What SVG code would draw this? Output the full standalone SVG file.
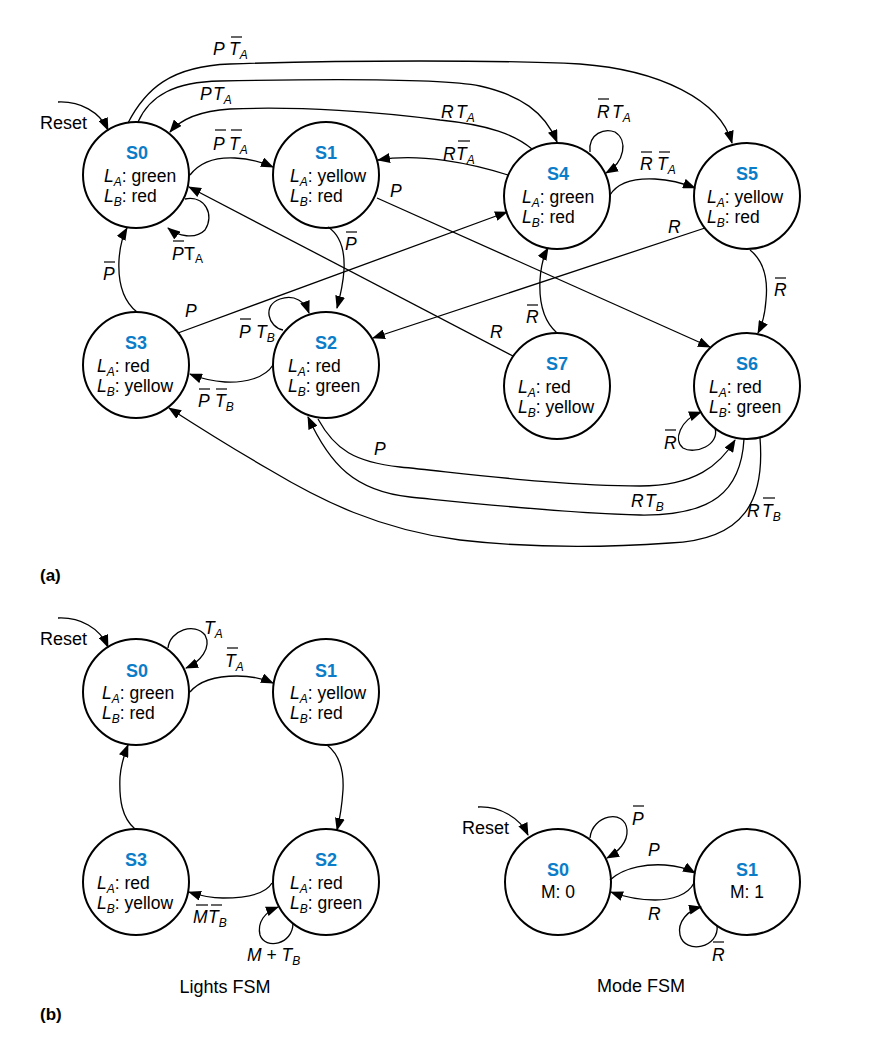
<svg xmlns="http://www.w3.org/2000/svg" width="878" height="1048" viewBox="0 0 878 1048">
<style>
.n{fill:#fff;stroke:#000;stroke-width:2}
.c{fill:none;stroke:#000;stroke-width:1.3;marker-end:url(#ah)}
.sl{font-family:"Liberation Sans",Arial,sans-serif;font-weight:bold;font-size:18px;fill:#0b7dc8;text-anchor:middle}
.nt{font-family:"Liberation Sans",Arial,sans-serif;font-size:17.5px;fill:#000}
.i{font-style:italic}
.el{font-family:"Liberation Sans",Arial,sans-serif;font-size:17.5px;font-style:italic;fill:#000}
.tx{font-family:"Liberation Sans",Arial,sans-serif;font-size:18px;fill:#000}
.cap{font-family:"Liberation Sans",Arial,sans-serif;font-size:17px;font-weight:bold;fill:#000}
.bar{stroke:#000;stroke-width:1.2}
</style>
<defs>
<marker id="ah" viewBox="0 0 13 10" refX="12" refY="5" markerWidth="13" markerHeight="10" markerUnits="userSpaceOnUse" orient="auto"><path d="M0,0 L13,5 L0,10 z" fill="#000"/></marker>
</defs>
<rect width="878" height="1048" fill="#fff"/>

<!-- Part (a) nodes -->
<g id="a-S0"><circle class="n" cx="136" cy="175" r="53"/><text class="sl" x="137" y="159">S0</text>
<text class="nt" x="104" y="182"><tspan class="i">L</tspan><tspan class="i" font-size="12" dy="4">A</tspan><tspan dy="-4">: green</tspan></text>
<text class="nt" x="104" y="202"><tspan class="i">L</tspan><tspan class="i" font-size="12" dy="4">B</tspan><tspan dy="-4">: red</tspan></text></g>
<g id="a-S1"><circle class="n" cx="326" cy="175" r="53"/><text class="sl" x="326" y="159">S1</text>
<text class="nt" x="290" y="182"><tspan class="i">L</tspan><tspan class="i" font-size="12" dy="4">A</tspan><tspan dy="-4">: yellow</tspan></text>
<text class="nt" x="290" y="202"><tspan class="i">L</tspan><tspan class="i" font-size="12" dy="4">B</tspan><tspan dy="-4">: red</tspan></text></g>
<g id="a-S4"><circle class="n" cx="557" cy="196" r="53"/><text class="sl" x="558" y="180">S4</text>
<text class="nt" x="522" y="203"><tspan class="i">L</tspan><tspan class="i" font-size="12" dy="4">A</tspan><tspan dy="-4">: green</tspan></text>
<text class="nt" x="522" y="223"><tspan class="i">L</tspan><tspan class="i" font-size="12" dy="4">B</tspan><tspan dy="-4">: red</tspan></text></g>
<g id="a-S5"><circle class="n" cx="747" cy="196" r="53"/><text class="sl" x="747" y="180">S5</text>
<text class="nt" x="707" y="203"><tspan class="i">L</tspan><tspan class="i" font-size="12" dy="4">A</tspan><tspan dy="-4">: yellow</tspan></text>
<text class="nt" x="707" y="223"><tspan class="i">L</tspan><tspan class="i" font-size="12" dy="4">B</tspan><tspan dy="-4">: red</tspan></text></g>
<g id="a-S3"><circle class="n" cx="136" cy="365" r="53"/><text class="sl" x="136" y="349">S3</text>
<text class="nt" x="97" y="372"><tspan class="i">L</tspan><tspan class="i" font-size="12" dy="4">A</tspan><tspan dy="-4">: red</tspan></text>
<text class="nt" x="97" y="392"><tspan class="i">L</tspan><tspan class="i" font-size="12" dy="4">B</tspan><tspan dy="-4">: yellow</tspan></text></g>
<g id="a-S2"><circle class="n" cx="326" cy="365" r="53"/><text class="sl" x="326" y="349">S2</text>
<text class="nt" x="288" y="372"><tspan class="i">L</tspan><tspan class="i" font-size="12" dy="4">A</tspan><tspan dy="-4">: red</tspan></text>
<text class="nt" x="288" y="392"><tspan class="i">L</tspan><tspan class="i" font-size="12" dy="4">B</tspan><tspan dy="-4">: green</tspan></text></g>
<g id="a-S7"><circle class="n" cx="557" cy="386" r="53"/><text class="sl" x="557" y="370">S7</text>
<text class="nt" x="518" y="393"><tspan class="i">L</tspan><tspan class="i" font-size="12" dy="4">A</tspan><tspan dy="-4">: red</tspan></text>
<text class="nt" x="518" y="413"><tspan class="i">L</tspan><tspan class="i" font-size="12" dy="4">B</tspan><tspan dy="-4">: yellow</tspan></text></g>
<g id="a-S6"><circle class="n" cx="747" cy="386" r="53"/><text class="sl" x="747" y="370">S6</text>
<text class="nt" x="709" y="393"><tspan class="i">L</tspan><tspan class="i" font-size="12" dy="4">A</tspan><tspan dy="-4">: red</tspan></text>
<text class="nt" x="709" y="413"><tspan class="i">L</tspan><tspan class="i" font-size="12" dy="4">B</tspan><tspan dy="-4">: green</tspan></text></g>

<!-- Part (a) connectors -->
<g id="a-connectors">
<path class="c" d="M58,102 C80,101 100,112 108,130"/>
<path class="c" d="M128,123 C145,90 170,66 230,64 C350,60 500,60 580,64 C660,70 720,100 732,143"/>
<path class="c" d="M138,122 C150,95 175,82 220,81 C320,79 440,78 480,86 C520,95 545,112 557,142"/>
<path class="c" d="M532,149 C515,135 490,125 440,120 C380,112 300,106 230,109 C200,111 180,120 170,132"/>
<path class="c" d="M508,175 C470,163 420,153 378,160"/>
<path class="c" d="M590,152 C588,133 605,128 615,132 C628,140 625,162 606,173"/>
<path class="c" d="M610,195 C618,182 635,178 655,179 C672,180 685,184 695,188"/>
<path class="c" d="M190,175 C200,162 215,157 235,158 C252,159 264,163 273,167"/>
<path class="c" d="M185,199 C205,195 215,215 205,230 C195,240 178,236 168,228"/>
<path class="c" d="M377,198 L710,347"/>
<path class="c" d="M328,227 C340,235 345,250 344,270 C343,285 340,297 337,308"/>
<path class="c" d="M513,356 L189,187"/>
<path class="c" d="M178,333 L507,212"/>
<path class="c" d="M705,228 L373,338"/>
<path class="c" d="M137,312 C122,300 118,280 119,260 C120,245 123,235 127,228"/>
<path class="c" d="M283,330 C268,327 262,305 280,299 C295,294 305,302 309,313"/>
<path class="c" d="M273,365 C265,378 245,383 225,382 C210,381 200,378 190,374"/>
<path class="c" d="M557,333 C542,320 539,300 540,280 C541,265 544,255 548,248"/>
<path class="c" d="M750,250 C765,262 768,280 766,300 C765,315 762,325 758,333"/>
<path class="c" d="M715,428 C720,445 695,455 683,448 C673,440 680,420 701,412"/>
<path class="c" d="M318,419 C335,450 355,462 400,467 C470,474 560,486 640,486 C695,486 720,465 735,440"/>
<path class="c" d="M744,439 C741,492 712,516 640,515 C560,513 470,503 410,497 C355,491 330,465 308,417"/>
<path class="c" d="M760,438 C765,500 745,540 670,543 C600,548 530,548 460,540 C380,530 320,500 270,470 C230,447 200,428 169,408"/>
</g>

<!-- Part (a) labels -->
<g id="a-labels">
<text class="tx" x="40" y="129">Reset</text>
<text class="el" x="213" y="55">P</text><text class="el" x="229" y="55">T<tspan font-size="12" dy="4">A</tspan></text><line class="bar" x1="231" y1="37" x2="242" y2="37"/>
<text class="el" x="200" y="100">P</text><text class="el" x="213" y="100">T<tspan font-size="12" dy="4">A</tspan></text>
<text class="el" x="213" y="150">P</text><text class="el" x="229" y="150">T<tspan font-size="12" dy="4">A</tspan></text><line class="bar" x1="215" y1="130" x2="226" y2="130"/><line class="bar" x1="231" y1="130" x2="242" y2="130"/>
<text class="el" x="172" y="260">P</text><text class="tx" x="184" y="260" font-size="17.5">T<tspan font-size="12" dy="3">A</tspan></text><line class="bar" x1="173" y1="241" x2="184" y2="241"/>
<text class="el" x="390" y="197">P</text>
<text class="el" x="345" y="250">P</text><line class="bar" x1="346" y1="232" x2="357" y2="232"/>
<text class="el" x="103" y="280">P</text><line class="bar" x1="104" y1="262" x2="115" y2="262"/>
<text class="el" x="441" y="118">R</text><text class="el" x="456" y="118">T<tspan font-size="12" dy="4">A</tspan></text>
<text class="el" x="443" y="160">R</text><text class="el" x="456" y="160">T<tspan font-size="12" dy="4">A</tspan></text><line class="bar" x1="458" y1="141" x2="470" y2="141"/>
<text class="el" x="597" y="118">R</text><text class="el" x="612" y="118">T<tspan font-size="12" dy="4">A</tspan></text><line class="bar" x1="598" y1="99" x2="609" y2="99"/>
<text class="el" x="640" y="170">R</text><text class="el" x="657" y="170">T<tspan font-size="12" dy="4">A</tspan></text><line class="bar" x1="641" y1="152" x2="652" y2="152"/><line class="bar" x1="659" y1="152" x2="670" y2="152"/>
<text class="el" x="668" y="233">R</text>
<text class="el" x="185" y="317">P</text>
<text class="el" x="239" y="338">P</text><text class="el" x="256" y="338">T<tspan font-size="12" dy="4">B</tspan></text><line class="bar" x1="240" y1="319" x2="251" y2="319"/>
<text class="el" x="198" y="407">P</text><text class="el" x="215" y="407">T<tspan font-size="12" dy="4">B</tspan></text><line class="bar" x1="199" y1="389" x2="210" y2="389"/><line class="bar" x1="216" y1="389" x2="227" y2="389"/>
<text class="el" x="774" y="296">R</text><line class="bar" x1="775" y1="278" x2="786" y2="278"/>
<text class="el" x="526" y="323">R</text><line class="bar" x1="527" y1="305" x2="538" y2="305"/>
<text class="el" x="490" y="338">R</text>
<text class="el" x="664" y="449">R</text><line class="bar" x1="665" y1="430" x2="676" y2="430"/>
<text class="el" x="631" y="507">R</text><text class="el" x="645" y="507">T<tspan font-size="12" dy="4">B</tspan></text>
<text class="el" x="747" y="517">R</text><text class="el" x="762" y="517">T<tspan font-size="12" dy="4">B</tspan></text><line class="bar" x1="763" y1="498" x2="775" y2="498"/>
<text class="el" x="374" y="455">P</text>
<text class="cap" x="40" y="581">(a)</text>
</g>

<!-- Part (b) lights FSM nodes -->
<g id="b-S0"><circle class="n" cx="136" cy="692" r="53"/><text class="sl" x="137" y="677">S0</text>
<text class="nt" x="102" y="699"><tspan class="i">L</tspan><tspan class="i" font-size="12" dy="4">A</tspan><tspan dy="-4">: green</tspan></text>
<text class="nt" x="102" y="719"><tspan class="i">L</tspan><tspan class="i" font-size="12" dy="4">B</tspan><tspan dy="-4">: red</tspan></text></g>
<g id="b-S1"><circle class="n" cx="326" cy="692" r="53"/><text class="sl" x="326" y="677">S1</text>
<text class="nt" x="290" y="699"><tspan class="i">L</tspan><tspan class="i" font-size="12" dy="4">A</tspan><tspan dy="-4">: yellow</tspan></text>
<text class="nt" x="290" y="719"><tspan class="i">L</tspan><tspan class="i" font-size="12" dy="4">B</tspan><tspan dy="-4">: red</tspan></text></g>
<g id="b-S3"><circle class="n" cx="136" cy="882" r="53"/><text class="sl" x="136" y="866">S3</text>
<text class="nt" x="97" y="889"><tspan class="i">L</tspan><tspan class="i" font-size="12" dy="4">A</tspan><tspan dy="-4">: red</tspan></text>
<text class="nt" x="97" y="909"><tspan class="i">L</tspan><tspan class="i" font-size="12" dy="4">B</tspan><tspan dy="-4">: yellow</tspan></text></g>
<g id="b-S2"><circle class="n" cx="326" cy="882" r="53"/><text class="sl" x="326" y="866">S2</text>
<text class="nt" x="290" y="889"><tspan class="i">L</tspan><tspan class="i" font-size="12" dy="4">A</tspan><tspan dy="-4">: red</tspan></text>
<text class="nt" x="290" y="909"><tspan class="i">L</tspan><tspan class="i" font-size="12" dy="4">B</tspan><tspan dy="-4">: green</tspan></text></g>

<!-- Part (b) mode FSM nodes -->
<g id="m-S0"><circle class="n" cx="558" cy="882" r="53"/><text class="sl" x="558" y="876">S0</text>
<text class="nt" x="558" y="898" text-anchor="middle">M: 0</text></g>
<g id="m-S1"><circle class="n" cx="747" cy="882" r="53"/><text class="sl" x="747" y="876">S1</text>
<text class="nt" x="747" y="898" text-anchor="middle">M: 1</text></g>

<!-- Part (b) connectors -->
<g id="b-connectors">
<path class="c" d="M58,618 C80,617 100,628 108,647"/>
<path class="c" d="M168,648 C170,630 195,622 205,635 C212,648 200,662 186,668"/>
<path class="c" d="M190,692 C200,680 218,676 237,676 C252,676 264,679 273,683"/>
<path class="c" d="M327,745 C340,755 344,770 343,790 C342,805 340,818 337,830"/>
<path class="c" d="M272,883 C265,895 245,898 223,898 C208,898 198,895 189,892"/>
<path class="c" d="M293,923 C293,945 265,950 260,935 C257,922 265,912 278,907"/>
<path class="c" d="M135,829 C122,818 119,800 120,777 C121,765 124,755 128,745"/>
<path class="c" d="M478,807 C500,806 520,818 528,835"/>
<path class="c" d="M590,838 C592,815 625,808 627,830 C628,842 618,852 607,858"/>
<path class="c" d="M610,880 C625,866 650,864 665,865 C680,866 688,869 695,873"/>
<path class="c" d="M694,883 C688,895 672,900 655,900 C635,900 622,896 611,892"/>
<path class="c" d="M717,925 C720,948 685,955 680,935 C677,922 688,910 701,907"/>
</g>

<!-- Part (b) labels -->
<g id="b-labels">
<text class="tx" x="40" y="645">Reset</text>
<text class="el" x="204" y="634">T<tspan font-size="12" dy="4">A</tspan></text>
<text class="el" x="225" y="667">T<tspan font-size="12" dy="4">A</tspan></text><line class="bar" x1="227" y1="648" x2="238" y2="648"/>
<text class="el" x="193" y="923">M</text><text class="el" x="208" y="923">T<tspan font-size="12" dy="4">B</tspan></text><line class="bar" x1="196" y1="905" x2="208" y2="905"/><line class="bar" x1="211" y1="905" x2="222" y2="905"/>
<text class="el" x="247" y="961">M<tspan font-style="normal"> + </tspan>T<tspan font-size="12" dy="4">B</tspan></text>
<text class="tx" x="225" y="993" text-anchor="middle">Lights FSM</text>
<text class="tx" x="462" y="834">Reset</text>
<text class="el" x="632" y="825">P</text><line class="bar" x1="633" y1="806" x2="644" y2="806"/>
<text class="el" x="648" y="856">P</text>
<text class="el" x="648" y="920">R</text>
<text class="el" x="712" y="961">R</text><line class="bar" x1="713" y1="942" x2="724" y2="942"/>
<text class="tx" x="641" y="992" text-anchor="middle">Mode FSM</text>
<text class="cap" x="40" y="1020">(b)</text>
</g>
</svg>
